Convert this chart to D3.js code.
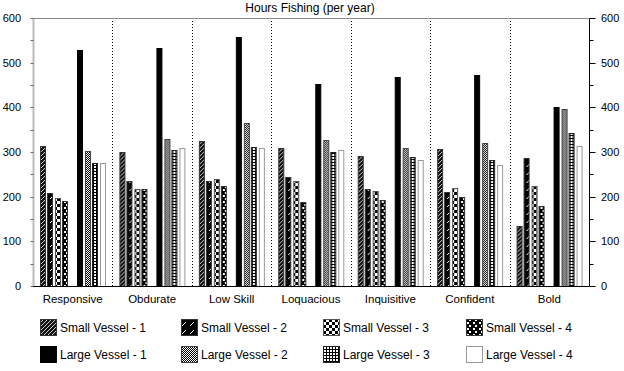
<!DOCTYPE html>
<html>
<head>
<meta charset="utf-8">
<script src="https://cdn.jsdelivr.net/npm/d3@7"></script>
<style>
  body { margin: 0; background: #fff; }
  text { font-family: "Liberation Sans", Arial, sans-serif; }
</style>
</head>
<body>
<div class="chart"></div>
<script>
//Chart data
var categories = ["Responsive", "Obdurate", "Low Skill", "Loquacious", "Inquisitive", "Confident", "Bold"];
var seriesNames = ["Small Vessel - 1", "Small Vessel - 2", "Small Vessel - 3", "Small Vessel - 4",
                   "Large Vessel - 1", "Large Vessel - 2", "Large Vessel - 3", "Large Vessel - 4"];
var smallVessel1 = [313, 300, 325, 309, 290, 307, 135];
var smallVessel2 = [208, 236, 236, 243, 217, 211, 286];
var smallVessel3 = [197, 217, 239, 235, 213, 219, 223];
var smallVessel4 = [191, 217, 225, 189, 193, 199, 179];
var largeVessel1 = [529, 533, 557, 453, 467, 472, 401];
var largeVessel2 = [303, 329, 365, 327, 309, 320, 396];
var largeVessel3 = [275, 305, 311, 300, 289, 281, 342];
var largeVessel4 = [275, 309, 309, 305, 281, 271, 313];
var yTicks = [0, 100, 200, 300, 400, 500, 600];

var allSeries = [smallVessel1, smallVessel2, smallVessel3, smallVessel4,
                 largeVessel1, largeVessel2, largeVessel3, largeVessel4];

function drawChart(){
  var w = 624, h = 371;
  var left = 33, right = 589, top = 18, bottom = 286;

  var svg = d3.select(".chart").append("svg")
              .attr("width", w)
              .attr("height", h);

  //Fill patterns for each series
  var defs = svg.append("defs");
  function pattern(id, size){
    return defs.append("pattern").attr("id", id)
               .attr("patternUnits", "userSpaceOnUse")
               .attr("width", size).attr("height", size);
  }
  var p = pattern("p0", 4);
  p.append("rect").attr("width", 4).attr("height", 4).attr("fill", "#111");
  p.append("path").attr("d", "M0,4 L4,0 M-1,1 L1,-1 M3,5 L5,3").attr("stroke", "#fff").attr("stroke-width", 0.8);

  p = pattern("p1", 8);
  p.append("rect").attr("width", 8).attr("height", 8).attr("fill", "#000");
  p.append("path").attr("d", "M1,7 L5,3").attr("stroke", "#fff").attr("stroke-width", 1);

  p = pattern("p2", 6);
  p.append("rect").attr("width", 6).attr("height", 6).attr("fill", "#fff");
  p.append("rect").attr("width", 3).attr("height", 3).attr("fill", "#000");
  p.append("rect").attr("x", 3).attr("y", 3).attr("width", 3).attr("height", 3).attr("fill", "#000");

  p = pattern("p3", 6);
  p.append("rect").attr("width", 6).attr("height", 6).attr("fill", "#000");
  p.append("rect").attr("x", 3).attr("y", 0).attr("width", 2).attr("height", 2).attr("fill", "#fff");
  p.append("rect").attr("x", 1).attr("y", 3).attr("width", 2).attr("height", 2).attr("fill", "#fff");

  p = pattern("p4", 4);
  p.append("rect").attr("width", 4).attr("height", 4).attr("fill", "#000");

  p = pattern("p5", 2);
  p.append("rect").attr("width", 2).attr("height", 2).attr("fill", "#fff");
  p.append("rect").attr("width", 1).attr("height", 1).attr("fill", "#000");
  p.append("rect").attr("x", 1).attr("y", 1).attr("width", 1).attr("height", 1).attr("fill", "#000");

  p = pattern("p6", 3);
  p.append("rect").attr("width", 3).attr("height", 3).attr("fill", "#000");
  p.append("rect").attr("x", 1).attr("y", 1).attr("width", 2).attr("height", 2).attr("fill", "#fff");

  p = pattern("p7", 4);
  p.append("rect").attr("width", 4).attr("height", 4).attr("fill", "#fff");

  var strokes = ["#333", "#333", "#555", "#333", "#000", "#444", "#222", "#999"];

  //Scales
  var x0 = d3.scaleBand().domain(categories).range([left, right]);
  var slots = d3.range(9); //slot 4 is the gap between small and large vessels
  var x1 = d3.scaleBand().domain(slots).range([0, x0.bandwidth()])
             .paddingInner(0.2).paddingOuter(0.9);
  var y = d3.scaleLinear().domain([0, 600]).range([bottom, top]);

  //Title
  svg.append("text")
     .attr("x", 310).attr("y", 12)
     .attr("text-anchor", "middle")
     .style("font-size", "12px")
     .text("Hours Fishing (per year)");

  //Group separators
  svg.selectAll(".sep")
     .data(categories.slice(1))
     .enter().append("line")
     .attr("x1", function(d){ return Math.round(x0(d)) + 0.5; })
     .attr("x2", function(d){ return Math.round(x0(d)) + 0.5; })
     .attr("y1", top).attr("y2", bottom)
     .attr("stroke", "#000")
     .attr("stroke-dasharray", "1,2");

  //Bars
  var groups = svg.selectAll(".grp")
                  .data(categories)
                  .enter().append("g")
                  .attr("transform", function(d){ return "translate(" + x0(d) + ",0)"; });

  groups.selectAll("rect")
        .data(function(d, ci){
          return allSeries.map(function(s, si){ return {si: si, v: s[ci]}; });
        })
        .enter().append("rect")
        .attr("x", function(d){ return Math.round(x1(d.si < 4 ? d.si : d.si + 1)) + 0.5; })
        .attr("y", function(d){ return Math.round(y(d.v)) + 0.5; })
        .attr("width", Math.round(x1.bandwidth()) - 1)
        .attr("height", function(d){ return Math.round(y(0)) - Math.round(y(d.v)); })
        .attr("fill", function(d){ return "url(#p" + d.si + ")"; })
        .attr("stroke", function(d){ return strokes[d.si]; })
        .attr("stroke-width", 1);

  //Frame lines
  svg.append("line").attr("x1", left).attr("x2", right)
     .attr("y1", top + 0.5).attr("y2", top + 0.5)
     .attr("stroke", "#888");
  svg.append("line").attr("x1", left).attr("x2", right)
     .attr("y1", bottom + 0.5).attr("y2", bottom + 0.5)
     .attr("stroke", "#000");

  //Left axis
  var leftAxis = svg.append("g").attr("transform", "translate(" + (left + 0.5) + ",0.5)");
  leftAxis.append("line").attr("y1", top).attr("y2", bottom)
          .attr("stroke", "#777").attr("stroke-width", 2)
          .attr("stroke-dasharray", "1,1");
  leftAxis.selectAll(".mt")
          .data(d3.range(0, 601, 50))
          .enter().append("line")
          .attr("x1", -3).attr("x2", 0)
          .attr("y1", function(d){ return Math.round(y(d)); })
          .attr("y2", function(d){ return Math.round(y(d)); })
          .attr("stroke", "#666");
  svg.selectAll(".ll")
     .data(yTicks)
     .enter().append("text")
     .attr("x", 21).attr("y", function(d){ return y(d) + 4; })
     .attr("text-anchor", "end")
     .style("font-size", "11px")
     .text(function(d){ return d; });

  //Right axis
  var rightAxis = svg.append("g").attr("transform", "translate(" + (right + 0.5) + ",0.5)");
  rightAxis.append("line").attr("y1", top).attr("y2", bottom).attr("stroke", "#000");
  rightAxis.selectAll(".rt")
           .data(d3.range(0, 601, 50))
           .enter().append("line")
           .attr("x1", 0).attr("x2", function(d){ return d % 100 == 0 ? 6 : 4; })
           .attr("y1", function(d){ return Math.round(y(d)); })
           .attr("y2", function(d){ return Math.round(y(d)); })
           .attr("stroke", "#000");
  svg.selectAll(".rl")
     .data(yTicks)
     .enter().append("text")
     .attr("x", 601).attr("y", function(d){ return y(d) + 4; })
     .style("font-size", "11px")
     .text(function(d){ return d; });

  //Category labels
  svg.selectAll(".cl")
     .data(categories)
     .enter().append("text")
     .attr("x", function(d){ return x0(d) + x0.bandwidth() / 2; })
     .attr("y", 303)
     .attr("text-anchor", "middle")
     .style("font-size", "11.5px")
     .text(function(d){ return d; });

  //Legend
  var legendX = [40, 181, 323, 466];
  var legendY = [319, 346];
  var legend = svg.selectAll(".lg")
                  .data(seriesNames)
                  .enter().append("g")
                  .attr("transform", function(d, i){
                    return "translate(" + legendX[i % 4] + "," + legendY[Math.floor(i / 4)] + ")";
                  });
  legend.append("rect")
        .attr("x", 0.5).attr("y", 0.5)
        .attr("width", 16).attr("height", 16)
        .attr("fill", function(d, i){ return "url(#p" + i + ")"; })
        .attr("stroke", function(d, i){ return strokes[i]; });
  legend.append("text")
        .attr("x", 20).attr("y", 13)
        .style("font-size", "12px")
        .text(function(d){ return d; });
}

drawChart();
</script>
</body>
</html>
